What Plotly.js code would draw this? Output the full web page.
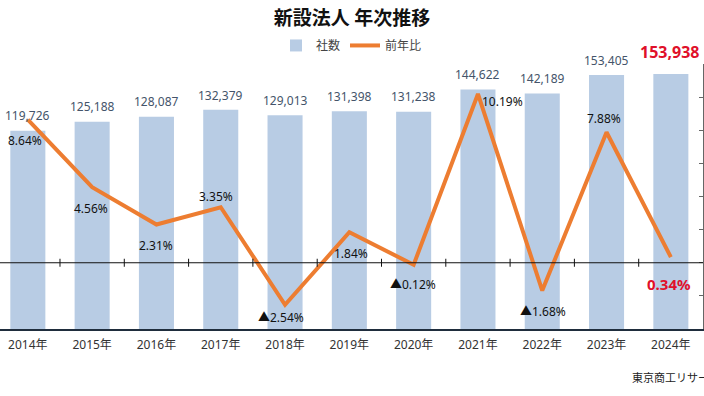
<!DOCTYPE html>
<html><head><meta charset="utf-8">
<script src="https://cdn.plot.ly/plotly-3.0.1.min.js"></script>
<style>html,body{margin:0;padding:0;background:#fff}#chart{width:704px;height:396px}</style>
</head><body><div id="chart"></div>
<script>
const years = ['2014年','2015年','2016年','2017年','2018年','2019年','2020年','2021年','2022年','2023年','2024年'];
const companies = [119726,125188,128087,132379,129013,131398,131238,144622,142189,153405,153938];
const yoy = [8.64,4.56,2.31,3.35,-2.54,1.84,-0.12,10.19,-1.68,7.88,0.34];
const seriesNames = ['社数','前年比'];
const titleText = '新設法人 年次推移';
const sourceText = '東京商工リサーチ';

// label placement (pixel offsets), not data
const pctOffsets = [[-3,-21],[-1,-21],[0,-21],[-5,11],[-4,-13],[2,-21],[-1,-20],[25,-8],[1,-21],[-3,14],[-2,-27]];
const barOffsets = [[0,15],[0,15],[0,15],[0,14],[0,15],[0,15],[0,15],[0,15],[0,15],[0,14],[-1,22]];
const FONT = 'Noto Sans, Noto Sans CJK JP, sans-serif';
const last = years.length - 1;

const fmtNum = v => v.toLocaleString('en-US');
const fmtPct = v => (v < 0 ? '▲' : '') + Math.abs(v).toFixed(2) + '%';

const traces = [
  {type:'bar', name:seriesNames[0], x:years, y:companies, marker:{color:'#b8cce4'}, width:0.545, yaxis:'y', hoverinfo:'skip'},
  {type:'scatter', mode:'lines', name:seriesNames[1], x:years, y:yoy, yaxis:'y2', line:{color:'#ed7d31', width:4}, hoverinfo:'skip'}
];

const annotations = [];
years.forEach((yr,i)=>{
  const hl = i === last;
  annotations.push({x:yr, y:companies[i], xref:'x', yref:'y', text:fmtNum(companies[i]), showarrow:false,
    xanchor:'center', yanchor:'middle', xshift:barOffsets[i][0], yshift:barOffsets[i][1],
    font: hl ? {family:FONT, size:16, color:'#e0102a', weight:'bold'} : {family:FONT, size:12, color:'#44546a'}});
  annotations.push({x:yr, y:yoy[i], xref:'x', yref:'y2', text:fmtPct(yoy[i]), showarrow:false,
    xanchor:'center', yanchor:'middle', xshift:pctOffsets[i][0], yshift:pctOffsets[i][1],
    font: hl ? {family:FONT, size:15, color:'#e0102a', weight:'bold'} : {family:FONT, size:12, color:'#111'}});
});
annotations.push({x:630/703, y:-0.181, xref:'paper', yref:'paper', text:sourceText, showarrow:false,
  xanchor:'left', yanchor:'middle', font:{family:'Noto Sans CJK JP, sans-serif', size:11, color:'#222'}});

const shapes = [{type:'line', xref:'paper', x0:0, x1:1, yref:'y2', y0:0, y1:0, line:{color:'#111', width:1}, layer:'above'}];
for (let i = 0; i < years.length - 1; i++) {
  shapes.push({type:'line', xref:'x', x0:i+0.5, x1:i+0.5, yref:'y2', ysizemode:'pixel', yanchor:0, y0:-4, y1:4,
    line:{color:'#111', width:1}, layer:'above'});
}

const layout = {
  width:704, height:396,
  margin:{l:0, r:1, t:64, b:67},
  paper_bgcolor:'#fff', plot_bgcolor:'#fff',
  font:{family:FONT, size:12, color:'#333'},
  title:{text:titleText, x:0.5, xanchor:'center', y:1-18/396, yanchor:'middle',
    font:{family:'Noto Sans CJK JP, sans-serif', size:19, color:'#111', weight:'bold'}},
  showlegend:true,
  legend:{orientation:'h', x:0.5, xanchor:'center', y:1.07, yanchor:'middle', font:{size:12, color:'#444'},
    bgcolor:'rgba(0,0,0,0)', itemwidth:30},
  bargap:0.45,
  xaxis:{type:'category', range:[-0.433, 10.5], showline:true, linecolor:'#1f2d3d', linewidth:2, ticks:'',
    showgrid:false, zeroline:false, tickfont:{size:12, color:'#333'}, ticklabelstandoff:4, fixedrange:true},
  yaxis:{range:[0,160000], visible:false, showgrid:false, zeroline:false, fixedrange:true},
  yaxis2:{overlaying:'y', side:'right', range:[-4,12], dtick:2, showticklabels:false, ticks:'inside', ticklen:4,
    tickcolor:'#666', showline:true, linecolor:'#666', linewidth:1, showgrid:false, zeroline:false, fixedrange:true},
  annotations:annotations,
  shapes:shapes
};
Plotly.newPlot('chart', traces, layout, {displayModeBar:false, staticPlot:true});
</script>
</body></html>
